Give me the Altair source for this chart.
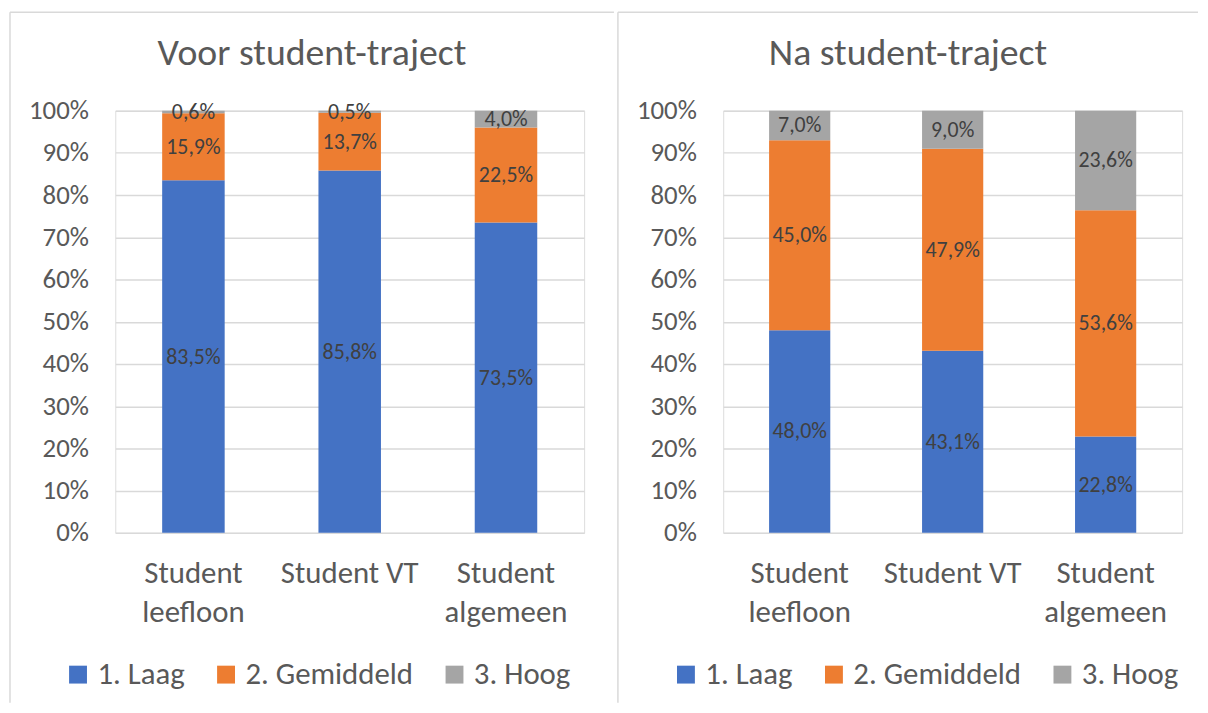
import altair as alt
import pandas as pd

categories = ["Student leefloon", "Student VT", "Student algemeen"]
levels = ["1. Laag", "2. Gemiddeld", "3. Hoog"]
colors = ["#4472C4", "#ED7D31", "#A5A5A5"]

voor_laag = [83.5, 85.8, 73.5]
voor_gemiddeld = [15.9, 13.7, 22.5]
voor_hoog = [0.6, 0.5, 4.0]

na_laag = [48.0, 43.1, 22.8]
na_gemiddeld = [45.0, 47.9, 53.6]
na_hoog = [7.0, 9.0, 23.6]

y_ticks = [i / 10 for i in range(11)]

FONT = "Carlito, Calibri, Lato, sans-serif"
AXIS_COLOR = "#595959"
GRID = "#D9D9D9"


def frame(series):
    rows = []
    for li, (lev, vals) in enumerate(zip(levels, series)):
        for cat, v in zip(categories, vals):
            rows.append({
                "cat": cat,
                "level": lev,
                "ord": li,
                "value": v / 100.0,
                "label": f"{v:.1f}".replace(".", ",") + "%",
            })
    return pd.DataFrame(rows)


def panel(df, title, plot_w, right_extent):
    base = alt.Chart(df).transform_stack(
        stack="value",
        groupby=["cat"],
        as_=["y0", "y1"],
        sort=[alt.SortField("ord", order="ascending")],
    ).transform_calculate(ymid="(datum.y0 + datum.y1) / 2")

    x_enc = alt.X(
        "cat:N",
        sort=categories,
        scale=alt.Scale(paddingInner=0.6, paddingOuter=0.3),
        axis=alt.Axis(
            title=None,
            labelAngle=0,
            labelFont=FONT,
            labelFontSize=31,
            labelColor=AXIS_COLOR,
            labelPadding=26,
            labelBaseline="top",
            labelLineHeight=39,
            ticks=False,
            domain=False,
            grid=False,
            labelExpr="datum.label == 'Student VT' ? datum.label : split(datum.label, ' ')",
        ),
    )

    bars = base.mark_bar().encode(
        x=x_enc,
        y=alt.Y(
            "y0:Q",
            scale=alt.Scale(domain=[0, 1]),
            axis=alt.Axis(
                title=None,
                format=".0%",
                values=y_ticks,
                labelFont=FONT,
                labelFontSize=27,
                labelColor=AXIS_COLOR,
                labelPadding=27,
                ticks=False,
                domain=False,
                gridColor=GRID,
                gridWidth=1.5,
            ),
        ),
        y2="y1:Q",
        color=alt.Color(
            "level:N",
            scale=alt.Scale(domain=levels, range=colors),
            legend=alt.Legend(
                title=None,
                orient="none",
                legendX=-53,
                legendY=552,
                direction="horizontal",
                symbolType="square",
                symbolSize=324,
                symbolStrokeWidth=0,
                labelFont=FONT,
                labelFontSize=31,
                labelColor=AXIS_COLOR,
                labelOffset=4,
                labelLimit=0,
                columnPadding=26,
            ),
        ),
    )

    text = base.mark_text(font=FONT, fontSize=22, color="#404040").encode(
        x=alt.X("cat:N", sort=categories),
        y=alt.Y("ymid:Q"),
        text="label:N",
    )

    border_src = alt.Chart(pd.DataFrame({"a": [0]}))
    left_rule = border_src.mark_rule(color=GRID, strokeWidth=1.5).encode(
        x=alt.value(-106), y=alt.value(-99), y2=alt.value(596)
    )
    top_rule = border_src.mark_rule(color=GRID, strokeWidth=1.5).encode(
        x=alt.value(-106), x2=alt.value(right_extent), y=alt.value(-99)
    )

    return alt.layer(left_rule, top_rule, bars, text).properties(
        width=plot_w,
        height=425,
        title=alt.TitleParams(
            text=title,
            font=FONT,
            fontSize=38,
            fontWeight="normal",
            color=AXIS_COLOR,
            anchor="middle",
            frame="bounds",
            offset=-62,
        ),
    )


left = panel(frame([voor_laag, voor_gemiddeld, voor_hoog]), "Voor student-traject", 472, 502)
right = panel(frame([na_laag, na_gemiddeld, na_hoog]), "Na student-traject", 462, 478)

chart = alt.hconcat(left, right, spacing=0).resolve_scale(
    color="independent", x="independent", y="independent"
).resolve_legend(color="independent").properties(
    padding={"left": 0, "top": 0, "right": 0, "bottom": 0}
).configure_view(stroke=None).configure(background="white")

chart.save("out.html", embed_options={"renderer": "svg", "actions": False})
